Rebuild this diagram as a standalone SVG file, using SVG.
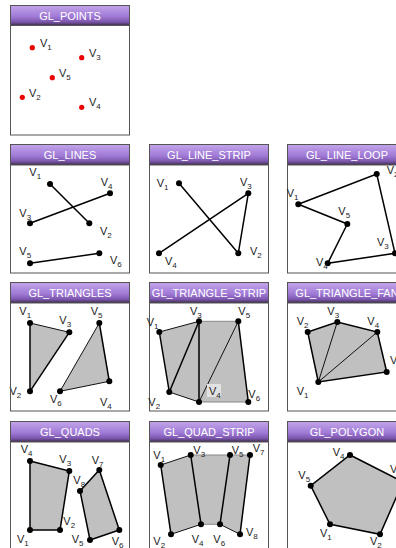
<svg xmlns="http://www.w3.org/2000/svg" width="396" height="548" viewBox="0 0 396 548">
<defs>
<linearGradient id="hdr" x1="0" y1="0" x2="0" y2="1">
<stop offset="0" stop-color="#c3a5ea"/>
<stop offset="0.55" stop-color="#a07ad6"/>
<stop offset="0.82" stop-color="#7d56ae"/>
<stop offset="1" stop-color="#3c2f48"/>
</linearGradient>
</defs>
<style>
.frame{fill:#fff;stroke:#555;stroke-width:1}
.head{fill:url(#hdr);stroke:#555;stroke-width:1}
.title{font-family:"Liberation Sans",Arial,sans-serif;font-size:11px;fill:#fff;text-anchor:middle}
.lbl{font-family:"Liberation Sans",Arial,sans-serif;font-size:11px;fill:#222}
.sub{font-size:8px}
.pt{fill:#e00}
.v{fill:#000}
.ln{stroke:#000;stroke-width:1.5;fill:none;stroke-linecap:round}
.thin{stroke:#111;stroke-width:1;fill:none}
.soft{stroke:#888;stroke-width:1;fill:none}
.poly{fill:#c0c0c0;stroke:none}
</style>
<rect width="396" height="548" fill="#fff"/>

<g id="gl_points">
<rect class="frame" x="10.5" y="5.5" width="119" height="129.5"/>
<rect class="head" x="10.5" y="5.5" width="119" height="20"/>
<text class="title" x="70" y="19.5">GL_POINTS</text>
<circle class="pt" cx="32.3" cy="47.7" r="2.6"/>
<circle class="pt" cx="81.7" cy="57.7" r="2.6"/>
<circle class="pt" cx="52.3" cy="77.7" r="2.6"/>
<circle class="pt" cx="22.3" cy="97.3" r="2.6"/>
<circle class="pt" cx="81.7" cy="107.3" r="2.6"/>
<text class="lbl" x="40" y="47">V<tspan class="sub" dy="3">1</tspan></text>
<text class="lbl" x="89" y="57">V<tspan class="sub" dy="3">3</tspan></text>
<text class="lbl" x="59" y="77">V<tspan class="sub" dy="3">5</tspan></text>
<text class="lbl" x="29" y="97">V<tspan class="sub" dy="3">2</tspan></text>
<text class="lbl" x="89" y="106">V<tspan class="sub" dy="3">4</tspan></text>
</g>

<g id="gl_lines">
<rect class="frame" x="10.5" y="144.5" width="119" height="128.5"/>
<rect class="head" x="10.5" y="144.5" width="119" height="20.5"/>
<text class="title" x="70" y="158.5">GL_LINES</text>
<g class="connectors">
<line class="ln" x1="50" y1="184" x2="89.3" y2="223.3"/>
<line class="ln" x1="30" y1="223.3" x2="110" y2="193.3"/>
<line class="ln" x1="30" y1="263.3" x2="99.3" y2="253.3"/>
</g>
<circle class="v" cx="50" cy="184" r="3"/>
<circle class="v" cx="89.3" cy="223.3" r="3"/>
<circle class="v" cx="30" cy="223.3" r="3"/>
<circle class="v" cx="110" cy="193.3" r="3"/>
<circle class="v" cx="30" cy="263.3" r="3"/>
<circle class="v" cx="99.3" cy="253.3" r="3"/>
<text class="lbl" x="29.3" y="176">V<tspan class="sub" dy="3">1</tspan></text>
<text class="lbl" x="100" y="235">V<tspan class="sub" dy="3">2</tspan></text>
<text class="lbl" x="19.3" y="217">V<tspan class="sub" dy="3">3</tspan></text>
<text class="lbl" x="100.7" y="186">V<tspan class="sub" dy="3">4</tspan></text>
<text class="lbl" x="19.3" y="255">V<tspan class="sub" dy="3">5</tspan></text>
<text class="lbl" x="110" y="264">V<tspan class="sub" dy="3">6</tspan></text>
</g>

<g id="gl_line_strip">
<rect class="frame" x="149.5" y="144.5" width="119" height="128.5"/>
<rect class="head" x="149.5" y="144.5" width="119" height="20.5"/>
<text class="title" x="209" y="158.5">GL_LINE_STRIP</text>
<g class="connectors">
<polyline class="ln" points="179,183.3 238.3,253.3 248.3,193.3 159,253.3"/>
</g>
<circle class="v" cx="179" cy="183.3" r="3"/>
<circle class="v" cx="238.3" cy="253.3" r="3"/>
<circle class="v" cx="248.3" cy="193.3" r="3"/>
<circle class="v" cx="159" cy="253.3" r="3"/>
<text class="lbl" x="156.7" y="186.5">V<tspan class="sub" dy="3">1</tspan></text>
<text class="lbl" x="250" y="255">V<tspan class="sub" dy="3">2</tspan></text>
<text class="lbl" x="240" y="186">V<tspan class="sub" dy="3">3</tspan></text>
<text class="lbl" x="165" y="265">V<tspan class="sub" dy="3">4</tspan></text>
</g>

<g id="gl_line_loop">
<rect class="frame" x="287.5" y="144.5" width="119" height="128.5"/>
<rect class="head" x="287.5" y="144.5" width="119" height="20.5"/>
<text class="title" x="347" y="158.5">GL_LINE_LOOP</text>
<g class="connectors">
<polygon class="ln" points="298.3,204.3 376.7,174 395,253.3 327.7,263.3 347.3,224"/>
</g>
<circle class="v" cx="298.3" cy="204.3" r="3"/>
<circle class="v" cx="376.7" cy="174" r="3"/>
<circle class="v" cx="395" cy="253.3" r="3"/>
<circle class="v" cx="327.7" cy="263.3" r="3"/>
<circle class="v" cx="347.3" cy="224" r="3"/>
<text class="lbl" x="286.7" y="197">V<tspan class="sub" dy="3">1</tspan></text>
<text class="lbl" x="386.7" y="174">V<tspan class="sub" dy="3">2</tspan></text>
<text class="lbl" x="377" y="246">V<tspan class="sub" dy="3">3</tspan></text>
<text class="lbl" x="316" y="266">V<tspan class="sub" dy="3">4</tspan></text>
<text class="lbl" x="338.3" y="215">V<tspan class="sub" dy="3">5</tspan></text>
</g>

<g id="gl_triangles">
<rect class="frame" x="10.5" y="282.5" width="119" height="128.5"/>
<rect class="head" x="10.5" y="282.5" width="119" height="20.5"/>
<text class="title" x="70" y="296.5">GL_TRIANGLES</text>
<polygon class="poly" points="30,323 30,391.3 69.3,332.3"/>
<polygon class="poly" points="99.3,323 60,391.3 109.3,381.3"/>
<g class="connectors">
<line class="ln" x1="30" y1="323" x2="30" y2="391.3"/>
<line class="ln" x1="30" y1="391.3" x2="69.3" y2="332.3"/>
<line class="thin" x1="30" y1="323" x2="69.3" y2="332.3"/>
<line class="thin" x1="99.3" y1="323" x2="60" y2="391.3"/>
<line class="thin" x1="60" y1="391.3" x2="109.3" y2="381.3"/>
<line class="ln" x1="109.3" y1="381.3" x2="99.3" y2="323"/>
</g>
<circle class="v" cx="30" cy="323" r="3"/>
<circle class="v" cx="30" cy="391.3" r="3"/>
<circle class="v" cx="69.3" cy="332.3" r="3"/>
<circle class="v" cx="109.3" cy="381.3" r="3"/>
<circle class="v" cx="99.3" cy="323" r="3"/>
<circle class="v" cx="60" cy="391.3" r="3"/>
<text class="lbl" x="19.3" y="314.5">V<tspan class="sub" dy="3">1</tspan></text>
<text class="lbl" x="9.5" y="394.5">V<tspan class="sub" dy="3">2</tspan></text>
<text class="lbl" x="59.3" y="324">V<tspan class="sub" dy="3">3</tspan></text>
<text class="lbl" x="100" y="405.5">V<tspan class="sub" dy="3">4</tspan></text>
<text class="lbl" x="90.7" y="314.5">V<tspan class="sub" dy="3">5</tspan></text>
<text class="lbl" x="50" y="403">V<tspan class="sub" dy="3">6</tspan></text>
<line x1="10.5" y1="303" x2="10.5" y2="411" stroke="#555" stroke-width="1"/>
</g>

<g id="gl_triangle_strip">
<rect class="frame" x="149.5" y="282.5" width="119" height="128.5"/>
<rect class="head" x="149.5" y="282.5" width="119" height="20.5"/>
<text class="title" x="209" y="296.5">GL_TRIANGLE_STRIP</text>
<polygon class="poly" points="159.3,332 199,321.3 238.3,321.3 248.3,402 199,402 169.3,392"/>
<g class="connectors">
<line class="soft" x1="199" y1="321.3" x2="238.3" y2="321.3"/>
<line class="soft" x1="199" y1="402" x2="248.3" y2="402"/>
<line class="thin" x1="159.3" y1="332" x2="199" y2="321.3"/>
<line class="thin" x1="169.3" y1="392" x2="199" y2="402"/>
<line class="thin" x1="199" y1="402" x2="238.3" y2="321.3"/>
<line class="ln" x1="159.3" y1="332" x2="169.3" y2="392"/>
<line class="ln" x1="169.3" y1="392" x2="199" y2="321.3"/>
<line class="ln" x1="199" y1="321.3" x2="199" y2="402"/>
<line class="ln" x1="238.3" y1="321.3" x2="248.3" y2="402"/>
</g>
<circle class="v" cx="159.3" cy="332" r="3"/>
<circle class="v" cx="169.3" cy="392" r="3"/>
<circle class="v" cx="199" cy="321.3" r="3"/>
<circle class="v" cx="199" cy="402" r="3"/>
<circle class="v" cx="238.3" cy="321.3" r="3"/>
<circle class="v" cx="248.3" cy="402" r="3"/>
<rect x="207" y="384" width="14" height="13" fill="#e2e2e2"/>
<text class="lbl" x="146.7" y="325.5">V<tspan class="sub" dy="3">1</tspan></text>
<text class="lbl" x="148.3" y="406">V<tspan class="sub" dy="3">2</tspan></text>
<text class="lbl" x="190" y="314.5">V<tspan class="sub" dy="3">3</tspan></text>
<text class="lbl" x="209" y="395">V<tspan class="sub" dy="3">4</tspan></text>
<text class="lbl" x="238.3" y="314.5">V<tspan class="sub" dy="3">5</tspan></text>
<text class="lbl" x="248.3" y="398">V<tspan class="sub" dy="3">6</tspan></text>
</g>

<g id="gl_triangle_fan">
<rect class="frame" x="287.5" y="282.5" width="119" height="128.5"/>
<rect class="head" x="287.5" y="282.5" width="119" height="20.5"/>
<text class="title" x="347" y="296.5">GL_TRIANGLE_FAN</text>
<polygon class="poly" points="318.3,382 307.7,332 337.3,322 377.3,332 386.7,372"/>
<g class="connectors">
<polygon class="ln" points="318.3,382 307.7,332 337.3,322 377.3,332 386.7,372"/>
<line class="thin" x1="318.3" y1="382" x2="337.3" y2="322"/>
<line class="thin" x1="318.3" y1="382" x2="377.3" y2="332"/>
</g>
<circle class="v" cx="318.3" cy="382" r="3"/>
<circle class="v" cx="307.7" cy="332" r="3"/>
<circle class="v" cx="337.3" cy="322" r="3"/>
<circle class="v" cx="377.3" cy="332" r="3"/>
<circle class="v" cx="386.7" cy="372" r="3"/>
<text class="lbl" x="296.7" y="395">V<tspan class="sub" dy="3">1</tspan></text>
<text class="lbl" x="296.7" y="324.5">V<tspan class="sub" dy="3">2</tspan></text>
<text class="lbl" x="327.3" y="314.5">V<tspan class="sub" dy="3">3</tspan></text>
<text class="lbl" x="367.3" y="324.5">V<tspan class="sub" dy="3">4</tspan></text>
<text class="lbl" x="390" y="364">V<tspan class="sub" dy="3">5</tspan></text>
</g>

<g id="gl_quads">
<rect class="frame" x="10.5" y="421.5" width="119" height="130"/>
<rect class="head" x="10.5" y="421.5" width="119" height="20.5"/>
<text class="title" x="70" y="435.5">GL_QUADS</text>
<polygon class="poly" points="30,530 60,530 69.3,471 30,461"/>
<polygon class="poly" points="90,540 119.3,530 99.3,470 80,491"/>
<g class="connectors">
<polygon class="ln" points="30,530 60,530 69.3,471 30,461"/>
<polygon class="ln" points="90,540 119.3,530 99.3,470 80,491"/>
</g>
<circle class="v" cx="30" cy="530" r="3"/>
<circle class="v" cx="60" cy="530" r="3"/>
<circle class="v" cx="69.3" cy="471" r="3"/>
<circle class="v" cx="30" cy="461" r="3"/>
<circle class="v" cx="90" cy="540" r="3"/>
<circle class="v" cx="119.3" cy="530" r="3"/>
<circle class="v" cx="99.3" cy="470" r="3"/>
<circle class="v" cx="80" cy="491" r="3"/>
<text class="lbl" x="17" y="542.5">V<tspan class="sub" dy="3">1</tspan></text>
<text class="lbl" x="63.3" y="525">V<tspan class="sub" dy="3">2</tspan></text>
<text class="lbl" x="59.3" y="463">V<tspan class="sub" dy="3">3</tspan></text>
<text class="lbl" x="20.7" y="453">V<tspan class="sub" dy="3">4</tspan></text>
<text class="lbl" x="71.7" y="543">V<tspan class="sub" dy="3">5</tspan></text>
<text class="lbl" x="111.7" y="545">V<tspan class="sub" dy="3">6</tspan></text>
<text class="lbl" x="91.7" y="464">V<tspan class="sub" dy="3">7</tspan></text>
<text class="lbl" x="73.3" y="484">V<tspan class="sub" dy="3">8</tspan></text>
</g>

<g id="gl_quad_strip">
<rect class="frame" x="149.5" y="421.5" width="119" height="130"/>
<rect class="head" x="149.5" y="421.5" width="119" height="20.5"/>
<text class="title" x="209" y="435.5">GL_QUAD_STRIP</text>
<polygon class="poly" points="160.7,465 190.7,455 230,455 250,455 240,534.3 220,524.3 201,524.3 171,534.3"/>
<g class="connectors">
<line class="soft" x1="190.7" y1="455" x2="250" y2="455"/>
<line class="soft" x1="201" y1="524.3" x2="220" y2="524.3"/>
<line class="thin" x1="160.7" y1="465" x2="190.7" y2="455"/>
<line class="thin" x1="171" y1="534.3" x2="201" y2="524.3"/>
<line class="thin" x1="220" y1="524.3" x2="240" y2="534.3"/>
<line class="ln" x1="160.7" y1="465" x2="171" y2="534.3"/>
<line class="ln" x1="190.7" y1="455" x2="201" y2="524.3"/>
<line class="ln" x1="230" y1="455" x2="220" y2="524.3"/>
<line class="ln" x1="250" y1="455" x2="240" y2="534.3"/>
</g>
<circle class="v" cx="160.7" cy="465" r="3"/>
<circle class="v" cx="171" cy="534.3" r="3"/>
<circle class="v" cx="190.7" cy="455" r="3"/>
<circle class="v" cx="201" cy="524.3" r="3"/>
<circle class="v" cx="230" cy="455" r="3"/>
<circle class="v" cx="220" cy="524.3" r="3"/>
<circle class="v" cx="250" cy="455" r="3"/>
<circle class="v" cx="240" cy="534.3" r="3"/>
<text class="lbl" x="153.3" y="459">V<tspan class="sub" dy="3">1</tspan></text>
<text class="lbl" x="153.3" y="545">V<tspan class="sub" dy="3">2</tspan></text>
<text class="lbl" x="193.3" y="454">V<tspan class="sub" dy="3">3</tspan></text>
<text class="lbl" x="191.7" y="543">V<tspan class="sub" dy="3">4</tspan></text>
<text class="lbl" x="231.7" y="454">V<tspan class="sub" dy="3">5</tspan></text>
<text class="lbl" x="213.3" y="543">V<tspan class="sub" dy="3">6</tspan></text>
<text class="lbl" x="252.7" y="452">V<tspan class="sub" dy="3">7</tspan></text>
<text class="lbl" x="246" y="535.5">V<tspan class="sub" dy="3">8</tspan></text>
</g>

<g id="gl_polygon">
<rect class="frame" x="287.5" y="421.5" width="119" height="130"/>
<rect class="head" x="287.5" y="421.5" width="119" height="20.5"/>
<text class="title" x="347" y="435.5">GL_POLYGON</text>
<polygon class="poly" points="330,524.3 380,534.3 403,482 350,455 310.7,485.7"/>
<g class="connectors">
<polygon class="ln" points="330,524.3 380,534.3 403,482 350,455 310.7,485.7"/>
</g>
<circle class="v" cx="330" cy="524.3" r="3"/>
<circle class="v" cx="380" cy="534.3" r="3"/>
<circle class="v" cx="350" cy="455" r="3"/>
<circle class="v" cx="310.7" cy="485.7" r="3"/>
<text class="lbl" x="320" y="536.5">V<tspan class="sub" dy="3">1</tspan></text>
<text class="lbl" x="370" y="545">V<tspan class="sub" dy="3">2</tspan></text>
<text class="lbl" x="390" y="472.5">V<tspan class="sub" dy="3">3</tspan></text>
<text class="lbl" x="332.7" y="456">V<tspan class="sub" dy="3">4</tspan></text>
<text class="lbl" x="298.3" y="479">V<tspan class="sub" dy="3">5</tspan></text>
</g>
</svg>
